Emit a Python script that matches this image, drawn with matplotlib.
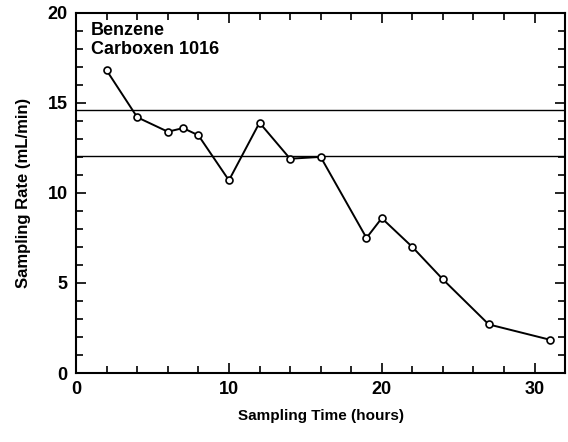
"""
Benzene sampling rate on Carboxen 1016 vs. sampling time
"""

import matplotlib.pyplot as plt
from matplotlib.ticker import MultipleLocator

plt.rcParams["font.family"] = ["Liberation Sans", "DejaVu Sans"]
plt.rcParams["font.weight"] = "bold"

# データ
sampling_time = [2, 4, 6, 7, 8, 10, 12, 14, 16, 19, 20, 22, 24, 27, 31]
sampling_rate = [16.8, 14.2, 13.4, 13.6, 13.2, 10.7, 13.9, 11.9, 12.0,
                 7.5, 8.6, 7.0, 5.2, 2.7, 1.85]
ref_lines = [14.6, 12.05]

fig = plt.figure(figsize=(5.68, 4.42), dpi=100)
ax = fig.add_axes([0.134, 0.156, 0.861, 0.815])

# 参照線
for y in ref_lines:
    ax.axhline(y, color="black", linewidth=1.0)

ax.plot(
    sampling_time,
    sampling_rate,
    color="black",
    linewidth=1.4,
    marker="o",
    markersize=5,
    markerfacecolor="white",
    markeredgecolor="black",
    markeredgewidth=1.2,
)

ax.set_xlim(0, 32)
ax.set_ylim(0, 20)
ax.xaxis.set_major_locator(MultipleLocator(10))
ax.xaxis.set_minor_locator(MultipleLocator(2))
ax.yaxis.set_major_locator(MultipleLocator(5))
ax.yaxis.set_minor_locator(MultipleLocator(1))
ax.tick_params(which="both", direction="in", top=True, right=True,
               width=1.2, labelsize=13, pad=6)
ax.tick_params(which="major", length=7)
ax.tick_params(which="minor", length=5)
for spine in ax.spines.values():
    spine.set_linewidth(1.5)

ax.set_xlabel("Sampling Time (hours)", fontsize=11, fontweight="bold", labelpad=8)
ax.set_ylabel("Sampling Rate (mL/min)", fontsize=12, fontweight="bold", labelpad=12)

ax.text(0.03, 0.975, "Benzene\nCarboxen 1016", transform=ax.transAxes,
        fontsize=13, fontweight="bold", va="top", ha="left", linespacing=1.15)

plt.savefig("out.png", dpi=100)
plt.close(fig)
